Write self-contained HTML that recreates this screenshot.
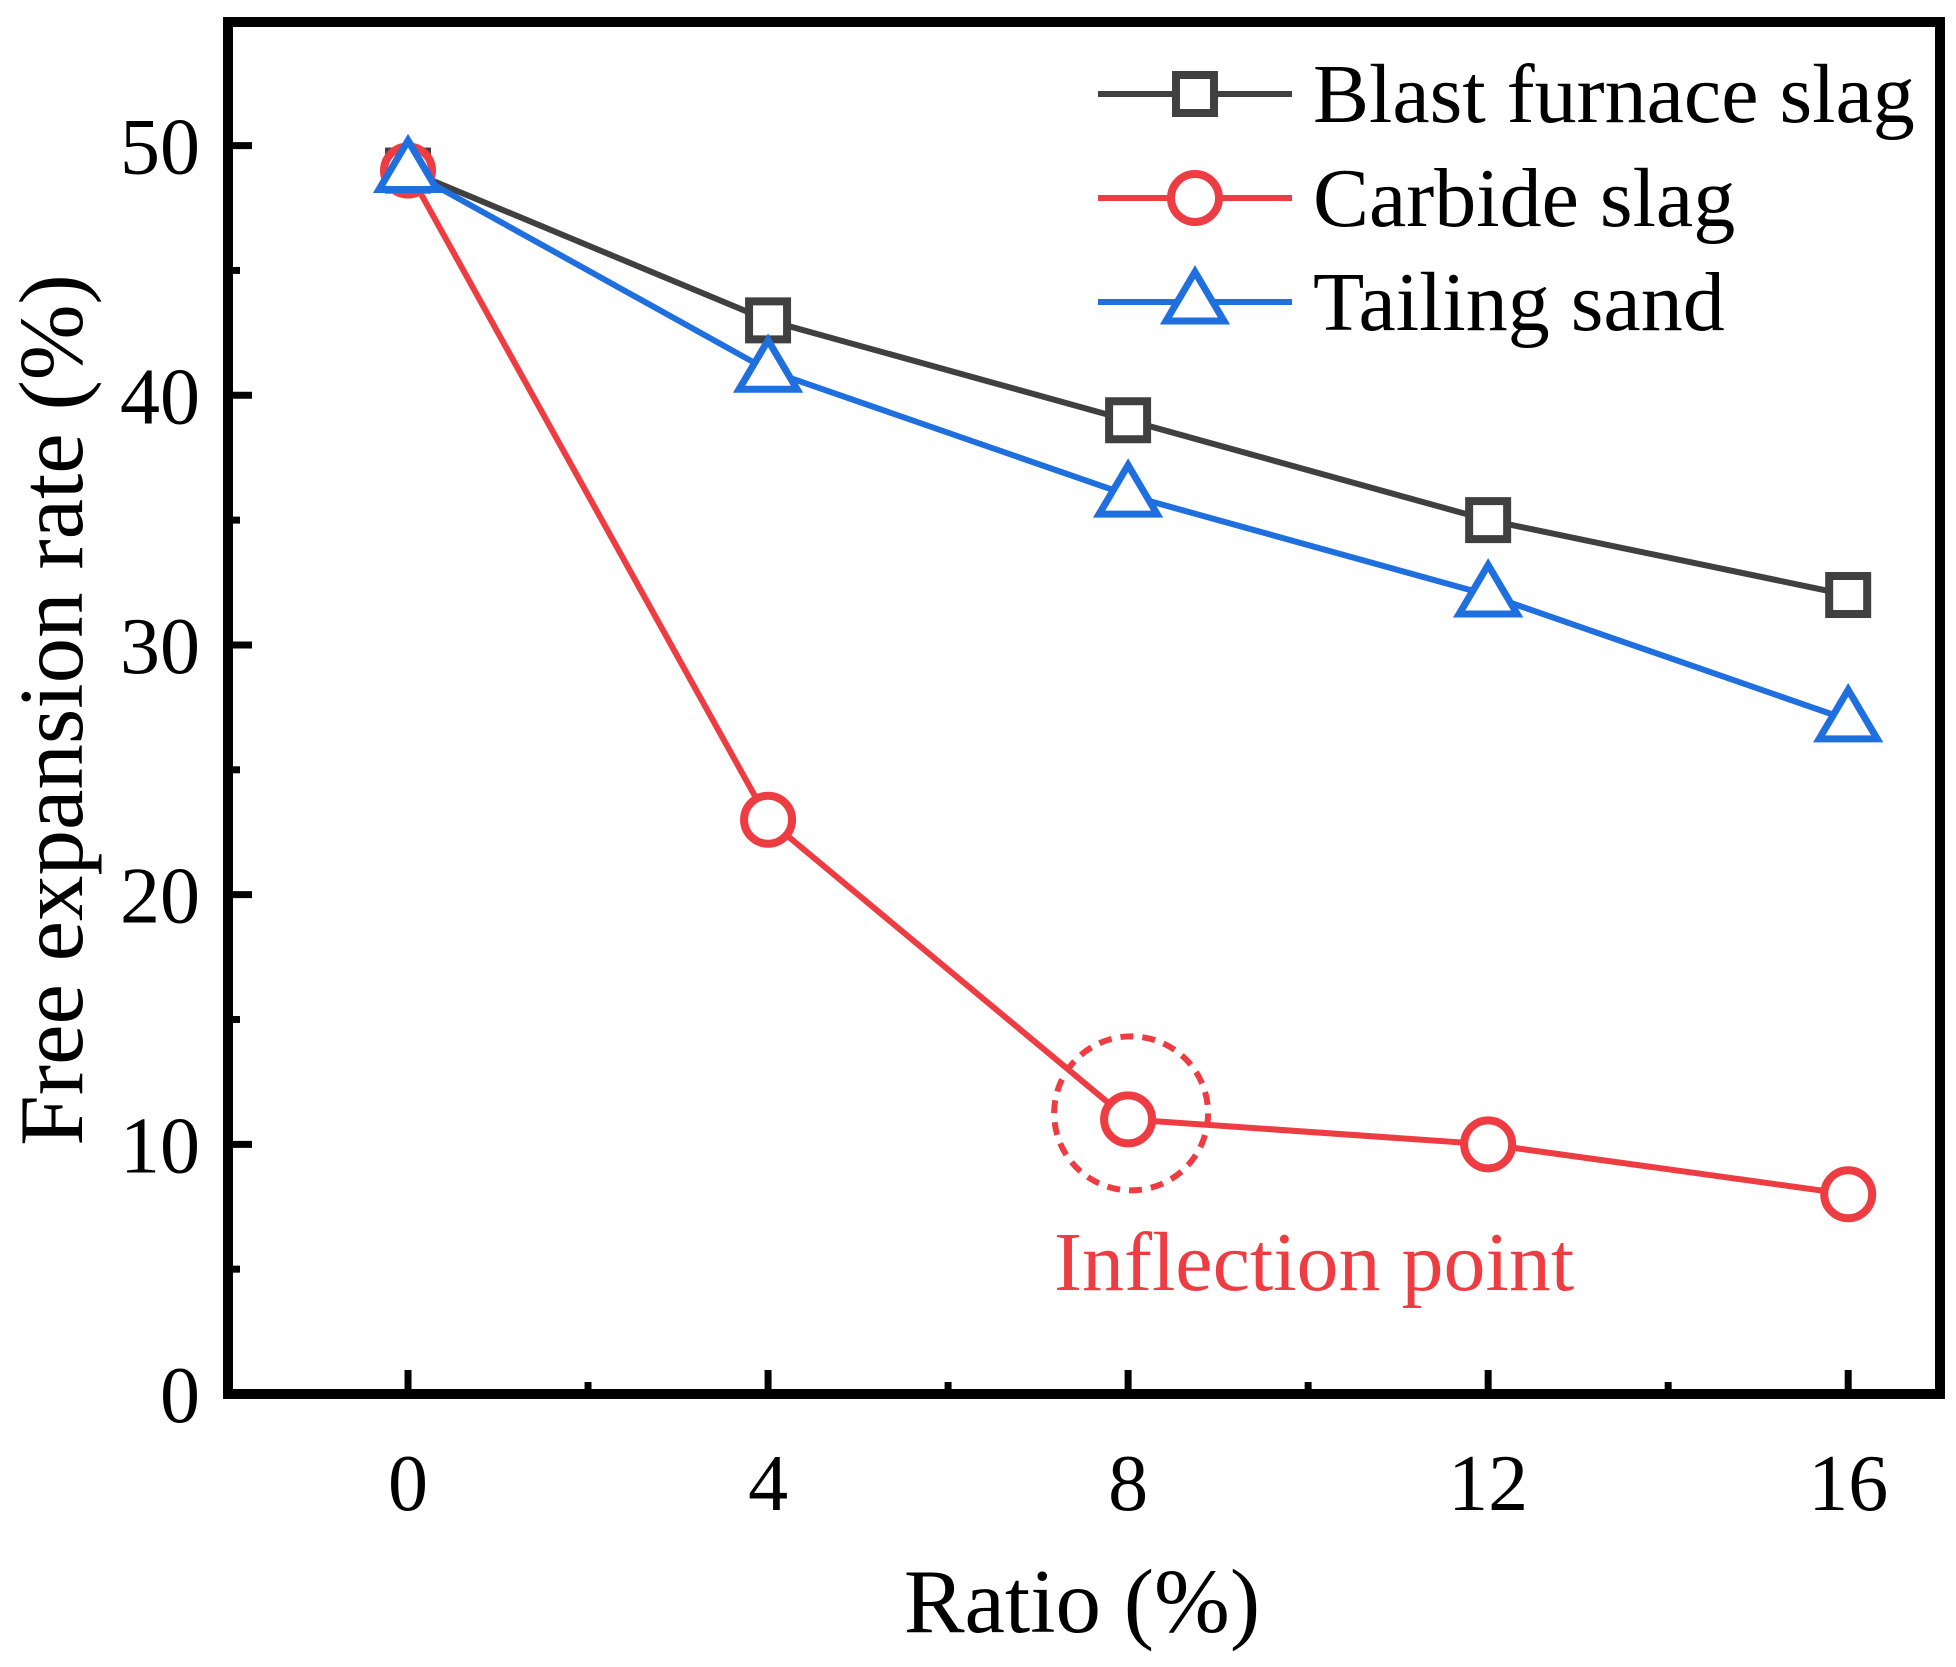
<!DOCTYPE html>
<html><head><meta charset="utf-8"><style>
html,body{margin:0;padding:0;background:#fff;}
svg{display:block;font-family:"Liberation Serif",serif;}
</style></head><body>
<svg id="chart" width="1956" height="1667" viewBox="0 0 1956 1667" xmlns="http://www.w3.org/2000/svg">
<g id="plot"></g>
</svg>
<script>
const xCats = [0, 4, 8, 12, 16];
const blastFurnace = [49, 43, 39, 35, 32];
const carbide = [49, 23, 11, 10, 8];
const tailing = [49, 41, 36, 32, 27];
const xTicks = [0, 4, 8, 12, 16];
const yTicks = [0, 10, 20, 30, 40, 50];

const L=228,R=1940,T=22,B=1394, X0=-2,X1=17.02,Y0=0,Y1=54.95;
function sx(v){return L+(v-X0)/(X1-X0)*(R-L);}
function sy(v){return B-(v-Y0)/(Y1-Y0)*(B-T);}
const NS="http://www.w3.org/2000/svg";
const svg=document.getElementById('chart');
function mk(tag,attrs,parent){const e=document.createElementNS(NS,tag);for(const k in attrs)e.setAttribute(k,attrs[k]);(parent||svg).appendChild(e);return e;}

for(let v=0;v<=55;v+=5){
  const len=(v%10===0)?24:12;
  const t=mk('line',{x1:L,x2:L+len,y1:sy(v),y2:sy(v),stroke:'#000','stroke-width':7});
  
  
}
yTicks.forEach(v=>{
  const t=mk('text',{x:200,y:sy(v)+28,'text-anchor':'end','font-size':80});
  t.textContent=v;
  
  
});
for(let v=0;v<=16;v+=2){
  const len=(v%4===0)?24:12;
  const t=mk('line',{x1:sx(v),x2:sx(v),y1:B,y2:B-len,stroke:'#000','stroke-width':7});
  
  
}
xTicks.forEach(v=>{
  const t=mk('text',{x:sx(v),y:1510,'text-anchor':'middle','font-size':80});
  t.textContent=v;
  
  
});

const fr=mk('rect',{x:L,y:T,width:R-L,height:B-T,fill:'none',stroke:'#000','stroke-width':10});



const xt=mk('text',{x:1082,y:1632,'text-anchor':'middle','font-size':91});
xt.textContent='Ratio (%)';


const yt=mk('text',{x:0,y:0,'text-anchor':'middle','font-size':91,transform:'translate(82,710) rotate(-90)'});
yt.textContent='Free expansion rate (%)';



function marker(type,x,y,color,name){
  let e;
  if(type==='sq') e=mk('rect',{x:x-19,y:y-19,width:38,height:38,fill:'#fff',stroke:color,'stroke-width':8});
  else if(type==='ci') e=mk('circle',{cx:x,cy:y,r:24,fill:'#fff',stroke:color,'stroke-width':8});
  else e=mk('polygon',{points:`${x},${y-30} ${x+29},${y+19} ${x-29},${y+19}`,fill:'#fff',stroke:color,'stroke-width':7,'stroke-linejoin':'miter'});
  
  
  return e;
}
const series=[
  {vals:blastFurnace,color:'#404040',m:'sq',name:'blast-furnace-slag'},
  {vals:carbide,color:'#ee3d42',m:'ci',name:'carbide-slag'},
  {vals:tailing,color:'#1f6fdf',m:'tr',name:'tailing-sand'}
];
const dc=mk('circle',{cx:sx(8)+3,cy:sy(11)-6,r:77,fill:'none',stroke:'#ee3d42','stroke-width':6,'stroke-dasharray':'13 9'});


series.forEach(s=>{
  const pts=xCats.map((c,i)=>sx(c)+','+sy(s.vals[i])).join(' ');
  const pl=mk('polyline',{points:pts,fill:'none',stroke:s.color,'stroke-width':6});
  
  
});
series.forEach(s=>{
  xCats.forEach((c,i)=>marker(s.m,sx(c),sy(s.vals[i]),s.color,s.name+'-point'));
});
const inf=mk('text',{x:1054,y:1290,'font-size':84,fill:'#ee3d42'});
inf.textContent='Inflection point';



const labels=['Blast furnace slag','Carbide slag','Tailing sand'];
series.forEach((s,i)=>{
  const y=94+i*104;
  const g=mk('g',{});
  
  
  mk('line',{x1:1098,x2:1292,y1:y,y2:y,stroke:s.color,'stroke-width':6},g);
  const m=marker(s.m,1195,y,s.color,'legend-marker');g.appendChild(m);
  const t=mk('text',{x:1313,y:y+28,'font-size':84},g);
  t.textContent=labels[i];
  
  
});
</script>
</body></html>
